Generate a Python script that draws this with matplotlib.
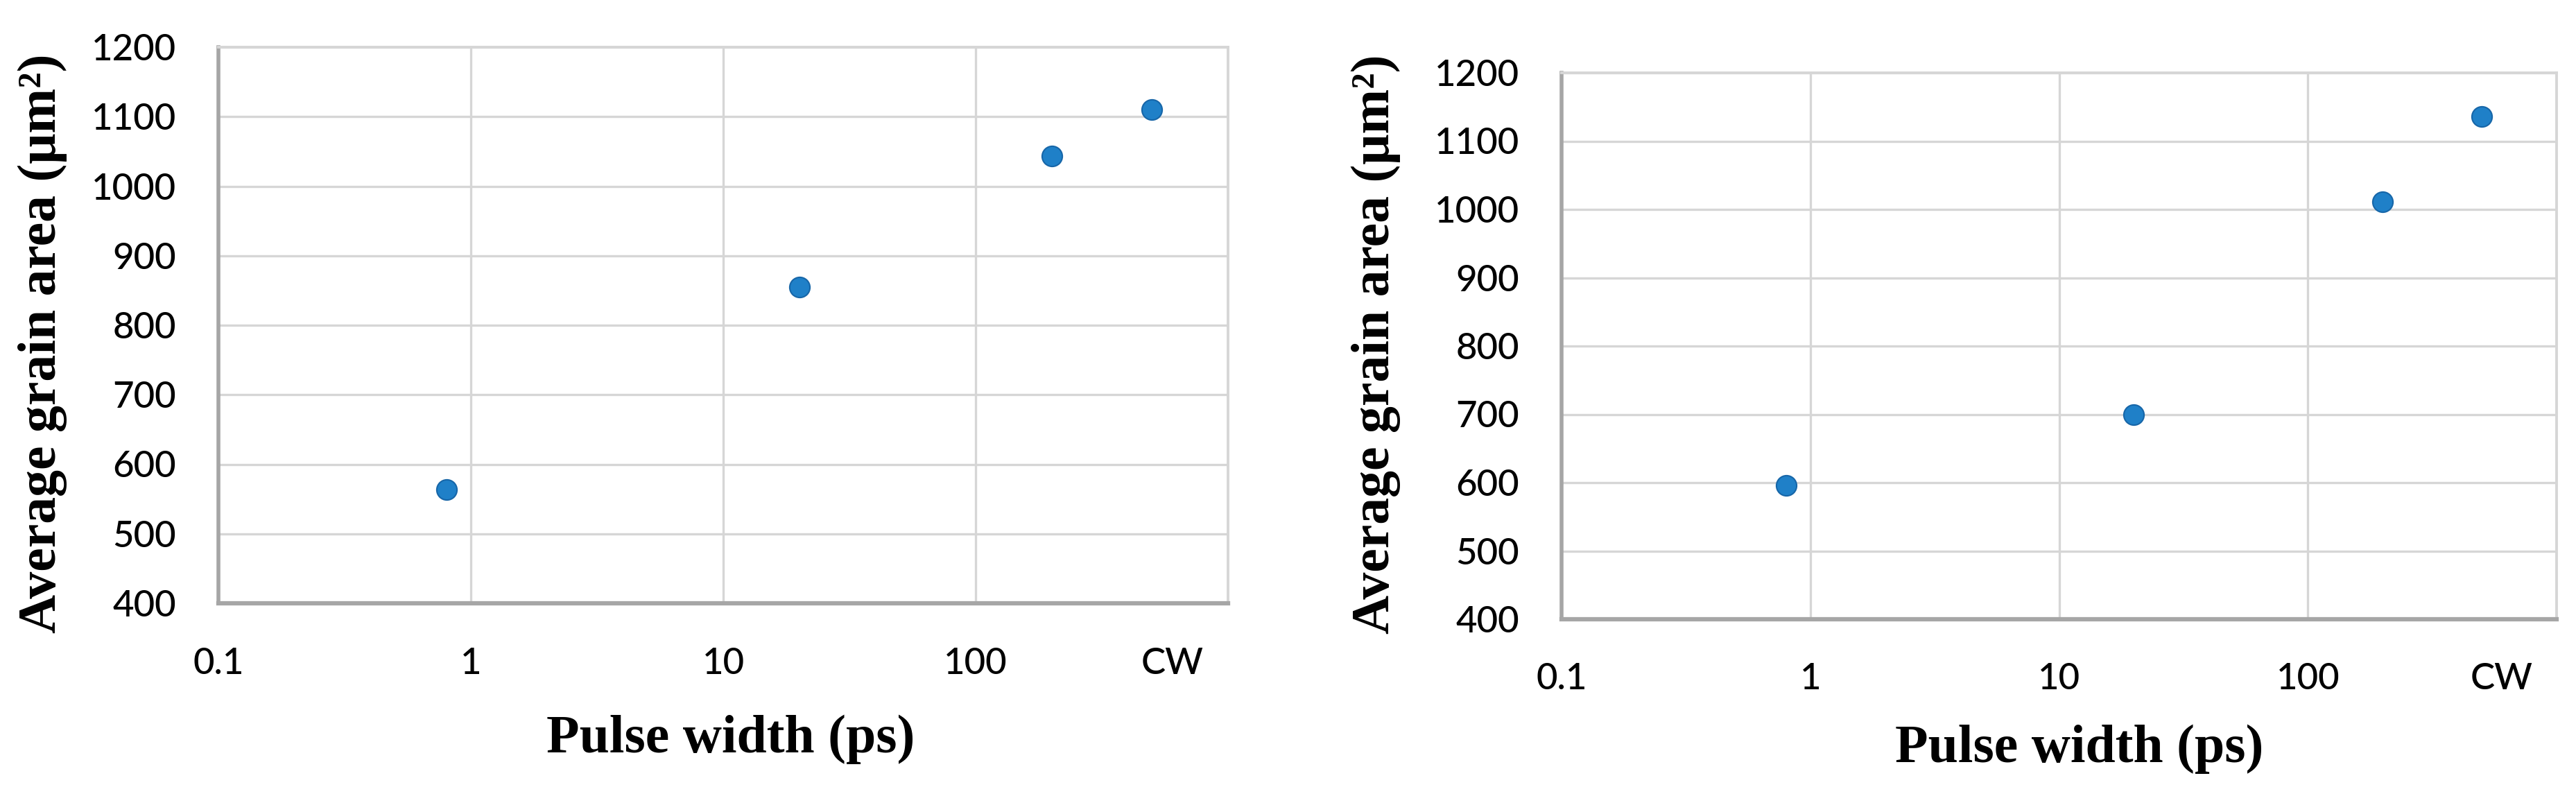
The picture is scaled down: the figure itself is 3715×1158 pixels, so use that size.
#!/usr/bin/env python3.12

import numpy as np
import matplotlib.pyplot as plt

## pulse width in ps, CW is drawn at 500 on the log axis
pulse_width = [0.8, 20, 200, 500]

## average grain area (um^2)
area_left  = [564, 855, 1043, 1110]
area_right = [596, 700, 1011, 1136]

x_ticks       = [0.1, 1, 10, 100]
x_tick_labels = ['0.1', '1', '10', '100']
cw_position   = 600
y_ticks       = np.arange(400, 1201, 100)

W, H = 3715, 1158
fig = plt.figure(figsize=(W/100, H/100), dpi=100)

# axes boxes in pixels: (left, top, right, bottom)
boxes = [(315, 68, 1771, 870), (2252, 105, 3687, 893)]
xlabel_pos = [(1054, 1066), (2999, 1080)]
ylabel_pos = [(61, 495), (1984, 496)]
x_pads = [46, 45]

tick_font  = dict(family='Lato', size=38, weight='medium')
label_font = dict(family='Liberation Serif', weight='bold', size=56)

for box, areas, xl, yl, xpad in zip(boxes, [area_left, area_right], xlabel_pos, ylabel_pos, x_pads):
    l, t, r, b = box
    ax = fig.add_axes([l/W, 1 - b/H, (r - l)/W, (b - t)/H])

    ax.plot(pulse_width, areas, 'o', markersize=21, markerfacecolor='#1f80c8',
            markeredgecolor='#1766a8', markeredgewidth=1.5, zorder=3, clip_on=False)

    ax.set_xscale('log')
    ax.set_xlim(0.1, 1000)
    ax.set_ylim(400, 1200)

    ax.set_xticks(x_ticks)
    ax.set_xticklabels(x_tick_labels)
    ax.set_xticks([cw_position], minor=True)
    ax.set_xticklabels(['CW'], minor=True)
    ax.set_yticks(y_ticks)

    for lab in ax.get_xticklabels(which='both') + ax.get_yticklabels():
        lab.set_fontfamily(tick_font['family'])
        lab.set_fontsize(tick_font['size'])
        lab.set_fontweight(tick_font['weight'])
        lab.set_color('black')

    ax.tick_params(axis='x', which='both', length=0, pad=xpad)
    ax.tick_params(axis='y', length=0, pad=44)

    # gridlines only on major ticks
    ax.grid(True, which='major', color='#d6d6d6', linewidth=2.4)
    ax.set_axisbelow(True)

    ax.spines['left'].set_color('#a6a6a6')
    ax.spines['left'].set_linewidth(4)
    ax.spines['bottom'].set_color('#a6a6a6')
    ax.spines['bottom'].set_linewidth(4.5)
    ax.spines['top'].set_color('#d6d6d6')
    ax.spines['top'].set_linewidth(2.8)
    ax.spines['right'].set_color('#d6d6d6')
    ax.spines['right'].set_linewidth(2.8)

    fig.text(xl[0]/W, 1 - xl[1]/H, 'Pulse width (ps)', ha='center', va='center', **label_font)
    fig.text(yl[0]/W, 1 - yl[1]/H, 'Average grain area (μm²)', ha='center', va='center',
             rotation=90, **label_font)

plt.savefig('out.png', dpi=100, facecolor='white')
plt.close()
